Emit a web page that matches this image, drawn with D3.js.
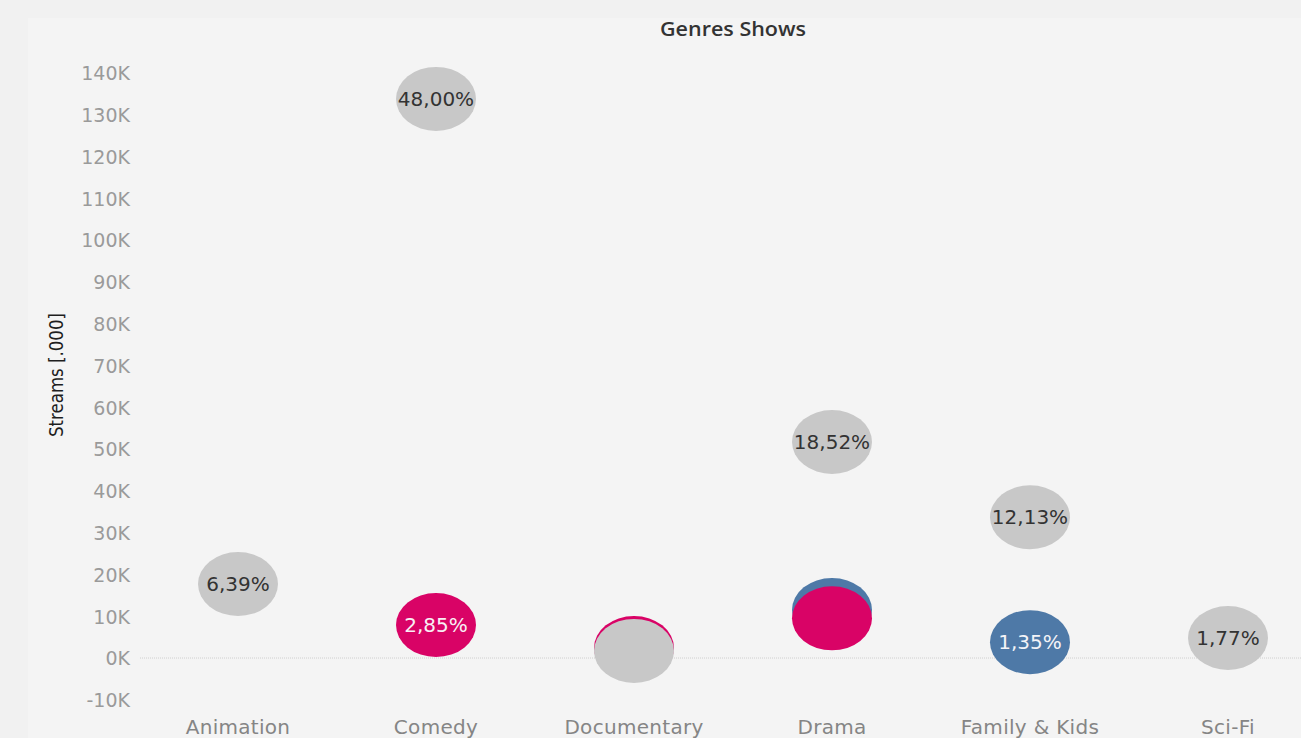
<!DOCTYPE html>
<html>
<head>
<meta charset="utf-8">
<script src="https://cdn.jsdelivr.net/npm/d3@7"></script>
<style>
  html, body { margin: 0; padding: 0; background: #f1f1f1; }
  svg { display: block; }
</style>
</head>
<body>
<svg id="chart" width="1301" height="738"></svg>
<script>
// Genres and streams (thousands) per platform group
const genres = ["Animation", "Comedy", "Documentary", "Drama", "Family & Kids", "Sci-Fi"];
const yTicks = [-10000, 0, 10000, 20000, 30000, 40000, 50000, 60000, 70000, 80000, 90000, 100000, 110000, 120000, 130000, 140000];

// [genre, streams, label]
const blueSeries = [
  ["Drama", 11500, ""],
  ["Family & Kids", 3800, "1,35%"]
];
const pinkSeries = [
  ["Comedy", 7900, "2,85%"],
  ["Documentary", 2400, ""],
  ["Drama", 9500, ""]
];
const greySeries = [
  ["Animation", 17700, "6,39%"],
  ["Comedy", 133800, "48,00%"],
  ["Documentary", 1700, ""],
  ["Drama", 51700, "18,52%"],
  ["Family & Kids", 33700, "12,13%"],
  ["Sci-Fi", 4800, "1,77%"]
];

const W = 1301, H = 738;
const svg = d3.select("#chart");
const font = "'DejaVu Sans', 'Noto Sans', sans-serif";

// pane
svg.append("rect").attr("x", 28).attr("y", 18).attr("width", W - 28).attr("height", H - 18).attr("fill", "#f4f4f4");

const x = d3.scaleBand().domain(genres).range([139, 1327]);
const y = d3.scaleLinear().domain([-15000, 145000]).range([720.7, 52.1]);

// title
svg.append("text").attr("x", 733).attr("y", 36).attr("text-anchor", "middle")
  .attr("font-family", "'Open Sans', sans-serif").attr("font-size", 19).attr("font-weight", 600).attr("fill", "#333")
  .attr("textLength", 146).attr("lengthAdjust", "spacingAndGlyphs")
  .text("Genres Shows");

// y axis
const yAxis = svg.append("g").attr("transform", "translate(130,0)")
  .call(d3.axisLeft(y).tickValues(yTicks).tickSize(0).tickPadding(0)
    .tickFormat(d => (d < 0 ? "-" : "") + Math.abs(d / 1000) + "K"));
yAxis.select(".domain").remove();
yAxis.selectAll("text").attr("font-family", font).attr("font-size", 19).attr("fill", "#9a9a9a").attr("dy", "0.36em");

svg.append("text").attr("transform", "translate(63,375) rotate(-90)").attr("text-anchor", "middle")
  .attr("font-family", "'Liberation Sans Narrow', 'DejaVu Sans Condensed', sans-serif")
  .attr("font-size", 20).attr("fill", "#1e1e1e")
  .attr("textLength", 124).attr("lengthAdjust", "spacingAndGlyphs")
  .text("Streams [.000]");

// zero line
svg.append("line").attr("x1", 140).attr("x2", W).attr("y1", y(0)).attr("y2", y(0))
  .attr("stroke", "#cfcfcf").attr("stroke-width", 1).attr("stroke-dasharray", "1,1");

// x axis
const xAxis = svg.append("g").attr("transform", "translate(0,727)")
  .call(d3.axisBottom(x).tickSize(0).tickPadding(0));
xAxis.select(".domain").remove();
xAxis.selectAll("text").attr("font-family", font).attr("font-size", 20).attr("fill", "#858585")
  .attr("letter-spacing", 0.3).attr("dy", "0.36em");

// bubbles
const rx = 40, ry = 32;
function drawSeries(data, fill, textFill) {
  const g = svg.append("g");
  g.selectAll("ellipse").data(data).join("ellipse")
    .attr("cx", d => x(d[0]) + x.bandwidth() / 2)
    .attr("cy", d => y(d[1]))
    .attr("rx", rx).attr("ry", ry).attr("fill", fill);
  g.selectAll("text").data(data.filter(d => d[2])).join("text")
    .attr("x", d => x(d[0]) + x.bandwidth() / 2)
    .attr("y", d => y(d[1]))
    .attr("dy", "0.36em").attr("text-anchor", "middle")
    .attr("font-family", font).attr("font-size", 20).attr("fill", textFill)
    .text(d => d[2]);
}
drawSeries(blueSeries, "#4e79a7", "#f4f4f8");
drawSeries(pinkSeries, "#d90366", "#f8eef4");
drawSeries(greySeries, "#c8c8c8", "#333333");
</script>
</body>
</html>
